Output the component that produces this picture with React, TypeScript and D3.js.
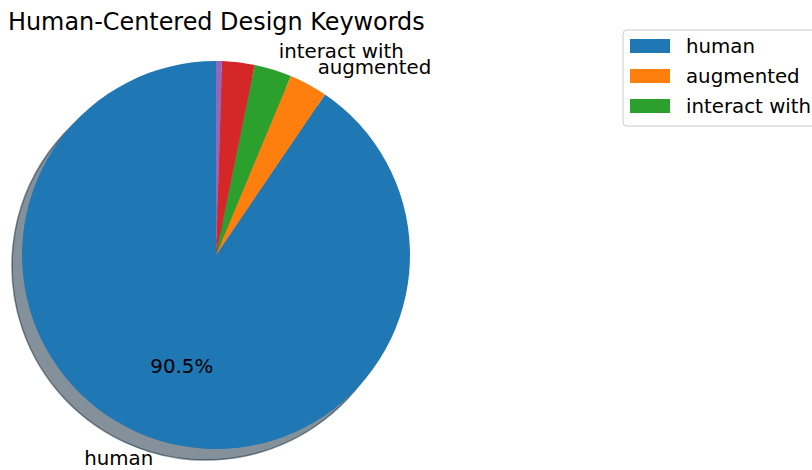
import React from "react";
import * as d3 from "d3";

const labels = ["human", "augmented", "interact with", "", ""];
const values = [90.5, 3.2, 3.1, 2.7, 0.5];
const colors = ["#1f77b4", "#ff7f0e", "#2ca02c", "#d62728", "#9467bd"];
const legendLabels = ["human", "augmented", "interact with"];
const title = "Human-Centered Design Keywords";

const W = 812;
const H = 470;
const cx = 216;
const cy = 255;
const R = 194;
const FONT = "'DejaVu Sans', sans-serif";
const FS = 19.8;

function darken(c: string) {
  const rgb = d3.rgb(c);
  return d3.rgb(rgb.r * 0.3, rgb.g * 0.3, rgb.b * 0.3).formatHex();
}

export default function App() {
  const pie = d3
    .pie<number>()
    .sort(null)
    .value((d) => d)
    .startAngle(0)
    .endAngle(-2 * Math.PI);
  const arcs = pie(values);
  const arc = d3.arc<d3.PieArcDatum<number>>().innerRadius(0).outerRadius(R);
  const total = d3.sum(values);

  return (
    <svg
      width={W}
      height={H}
      style={{ position: "absolute", left: 0, top: 0, background: "#fff" }}
      fontFamily={FONT}
    >
      <text x={8} y={29.5} fontSize={23.9} fill="#000">
        {title}
      </text>
      {/* shadow */}
      <g transform={`translate(${cx - 10},${cy + 11})`}>
        {arcs.map((a, i) => (
          <path
            key={"s" + i}
            d={arc(a) || ""}
            fill={darken(colors[i])}
            fillOpacity={0.5}
            stroke={darken(colors[i])}
            strokeOpacity={0.5}
            strokeWidth={1.5}
          />
        ))}
      </g>
      <g transform={`translate(${cx},${cy})`}>
        {arcs.map((a, i) => (
          <path key={"w" + i} d={arc(a) || ""} fill={colors[i]} />
        ))}
        {arcs.map((a, i) => {
          if (!labels[i]) return null;
          const m = (a.startAngle + a.endAngle) / 2;
          const x = Math.sin(m) * R * 1.1;
          const y = -Math.cos(m) * R * 1.1;
          return (
            <text
              key={"l" + i}
              x={x}
              y={y}
              fontSize={FS}
              textAnchor={x < 0 ? "end" : "start"}
              dominantBaseline="central"
              fill="#000"
            >
              {labels[i]}
            </text>
          );
        })}
        {arcs.map((a, i) => {
          const pct = (a.data / total) * 100;
          if (pct < 10) return null;
          const m = (a.startAngle + a.endAngle) / 2;
          const x = Math.sin(m) * R * 0.6;
          const y = -Math.cos(m) * R * 0.6;
          return (
            <text
              key={"p" + i}
              x={x}
              y={y}
              fontSize={FS}
              textAnchor="middle"
              dominantBaseline="central"
              fill="#000"
            >
              {pct.toFixed(1) + "%"}
            </text>
          );
        })}
      </g>
      {/* legend */}
      <g>
        <rect
          x={623}
          y={30}
          width={210}
          height={96}
          rx={4}
          fill="#fff"
          fillOpacity={0.8}
          stroke="#cccccc"
          strokeWidth={1}
        />
        {legendLabels.map((l, i) => (
          <g key={"lg" + i} transform={`translate(630,${39 + i * 30})`}>
            <rect x={0} y={0} width={40} height={14} fill={colors[i]} />
            <text x={56} y={7} fontSize={FS} dominantBaseline="central" fill="#000">
              {l}
            </text>
          </g>
        ))}
      </g>
    </svg>
  );
}
